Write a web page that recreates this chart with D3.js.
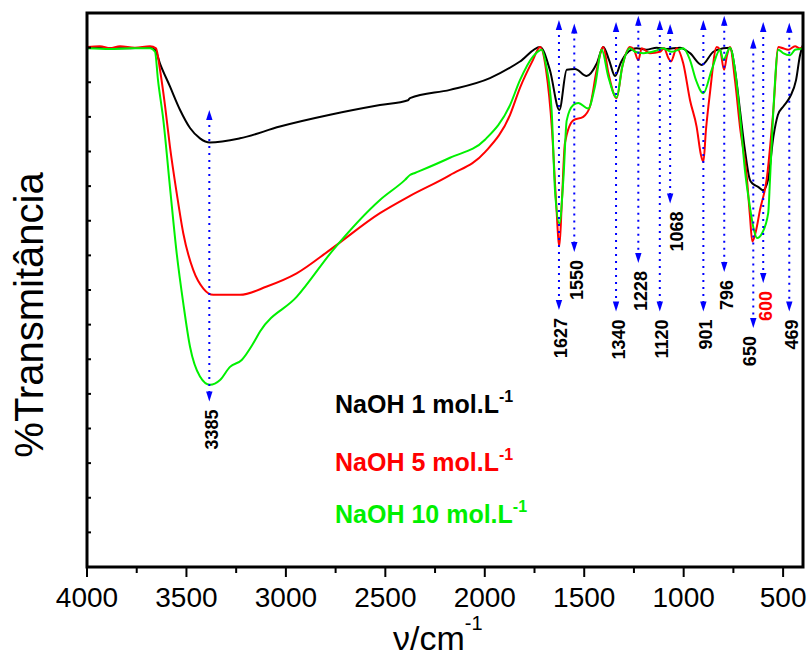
<!DOCTYPE html>
<html><head><meta charset="utf-8">
<script src="https://cdn.jsdelivr.net/npm/d3@7"></script>
<style>body{margin:0;background:#fff}svg{display:block}text{font-family:Arial,"Liberation Sans",sans-serif}</style>
</head><body><svg id="c" width="810" height="657"></svg>
<script>
// ---- data (wavenumber cm-1, transmittance arbitrary %) ----
const xTicks = [4000, 3500, 3000, 2500, 2000, 1500, 1000, 500];
const seriesNames = ["NaOH 1 mol.L", "NaOH 5 mol.L", "NaOH 10 mol.L"];
const seriesColors = ["#000000", "#ff0000", "#00f000"];
const black1 = [[4000,75.0],[3834,74.9],[3683,75.0],[3658,74.7],[3633,72.7],[3583,69.4],[3532,66.0],[3482,63.4],[3432,61.9],[3382,61.3],[3231,61.9],[3030,63.6],[2778,65.3],[2527,66.7],[2386,67.4],[2376,67.7],[2175,68.9],[1974,70.6],[1823,73.0],[1722,75.1],[1672,71.7],[1625,66.0],[1588,71.8],[1546,71.9],[1488,70.9],[1437,72.7],[1404,75.1],[1375,73.2],[1345,70.9],[1315,72.9],[1286,74.2],[1236,74.9],[1186,74.7],[1136,75.0],[1085,74.8],[1019,75.0],[968,74.2],[909,72.5],[851,74.4],[801,74.9],[767,75.0],[742,71.8],[717,66.0],[692,60.2],[667,55.9],[651,55.3],[626,54.9],[601,54.4],[576,55.9],[549,62.1],[526,65.3],[499,66.5],[465,67.9],[435,70.3],[415,73.9],[400,75.4]];
const red5 = [[4000,75.1],[3935,75.2],[3884,74.9],[3834,75.2],[3759,75.0],[3683,75.2],[3653,74.9],[3633,71.8],[3608,66.7],[3583,60.7],[3549,54.0],[3516,48.2],[3466,42.9],[3415,40.2],[3365,39.3],[3231,39.3],[3096,40.5],[2946,42.4],[2778,45.8],[2527,51.1],[2376,53.6],[2175,56.6],[1999,59.9],[1873,65.3],[1823,69.2],[1758,73.2],[1722,75.1],[1692,71.8],[1662,63.1],[1642,53.0],[1625,46.3],[1612,53.0],[1597,61.2],[1555,64.5],[1505,65.0],[1471,66.5],[1437,71.8],[1404,75.1],[1379,71.4],[1337,67.7],[1309,72.2],[1270,75.1],[1250,74.7],[1228,73.2],[1211,74.9],[1169,74.2],[1119,74.4],[1099,74.9],[1077,73.5],[1064,73.0],[1035,74.9],[1002,72.7],[968,67.4],[935,63.6],[913,59.5],[901,58.5],[888,63.1],[868,68.4],[834,75.1],[817,74.7],[797,71.8],[782,73.9],[767,75.1],[742,70.3],[717,63.6],[683,56.4],[667,50.8],[655,47.0],[636,48.6],[616,51.6],[583,55.9],[549,66.0],[524,75.1],[500,74.9],[474,74.7],[440,75.2],[415,74.9],[400,75.1]];
const green10 = [[4000,74.9],[3884,74.8],[3784,74.9],[3683,74.9],[3658,74.4],[3643,70.3],[3616,64.5],[3583,54.9],[3549,45.3],[3516,38.1],[3482,31.8],[3432,27.5],[3382,26.3],[3331,27.0],[3281,28.9],[3222,29.9],[3164,32.3],[3130,34.0],[2946,39.0],[2762,45.8],[2527,53.0],[2401,55.9],[2376,56.6],[2351,56.9],[2175,59.1],[1999,61.7],[1873,66.7],[1823,70.3],[1758,73.7],[1714,74.7],[1692,72.5],[1664,66.0],[1647,54.4],[1625,49.6],[1605,55.9],[1588,64.5],[1555,66.7],[1530,67.0],[1480,66.2],[1446,69.4],[1412,74.7],[1379,70.8],[1337,67.8],[1309,72.2],[1270,74.9],[1245,74.4],[1203,74.2],[1144,74.5],[1104,74.9],[1060,74.4],[1002,74.9],[968,73.2],[938,70.3],[901,68.4],[859,71.8],[817,74.7],[801,73.2],[767,75.0],[742,71.8],[717,65.3],[692,57.3],[667,52.0],[647,48.7],[631,47.5],[606,48.2],[575,51.1],[566,55.9],[549,66.0],[524,74.7],[500,74.2],[465,73.9],[440,74.7],[415,74.8],[400,74.9]];
// band markers: wavenumber, arrow top T, arrow bottom T, label colour
const bandWn   = [3385, 1627, 1550, 1340, 1228, 1120, 1068, 901, 796, 650, 600, 469];
const bandTop  = [66.0, 79.0, 78.5, 78.7, 79.6, 79.0, 78.4, 79.0, 79.6, 76.3, 78.7, 78.6];
const bandBot  = [23.9, 37.1, 45.5, 36.9, 43.9, 36.9, 52.5, 36.9, 42.6, 34.5, 41.0, 36.9];
const bandRed  = [false,false,false,false,false,false,false,false,false,false,true,false];

// ---- layout ----
const svg = d3.select("#c");
const L = 87, R = 803, T = 13, B = 567;
const x = d3.scaleLinear().domain([4000, 400]).range([L, R]);
const y = d3.scaleLinear().domain([0, 80]).range([B, T]);

// curves
const line = d3.line().x(d => x(d[0])).y(d => y(d[1])).curve(d3.curveMonotoneX);
[black1, red5, green10].forEach((s, i) => {
  svg.append("path").datum(s).attr("d", line).attr("fill", "none")
    .attr("stroke", seriesColors[i]).attr("stroke-width", 2).attr("stroke-linejoin", "round");
});

// band arrows
const labelDx = {"650": -6, "1068": 4};
bandWn.forEach((w, i) => {
  const xx = x(w), y1 = y(bandTop[i]), y2 = y(bandBot[i]);
  svg.append("line").attr("x1", xx).attr("x2", xx).attr("y1", y1 + 8).attr("y2", y2 - 8)
    .attr("stroke", "#0000ff").attr("stroke-width", 2).attr("stroke-dasharray", "2,5");
  svg.append("path").attr("d", `M${xx},${y1} L${xx-3.2},${y1+10} L${xx+3.2},${y1+10} Z`).attr("fill", "#0000ff");
  svg.append("path").attr("d", `M${xx},${y2} L${xx-3.2},${y2-10} L${xx+3.2},${y2-10} Z`).attr("fill", "#0000ff");
  const lx = xx + 2 + (labelDx[w] || 0), ly = y2 + 8;
  svg.append("text").attr("transform", `translate(${lx},${ly}) rotate(-90)`)
    .attr("text-anchor", "end").attr("dy", "0.36em")
    .attr("font-size", 18).attr("font-weight", "bold")
    .attr("fill", bandRed[i] ? "#ff0000" : "#000000").text(w);
});

// frame
svg.append("rect").attr("x", L).attr("y", T).attr("width", R - L).attr("height", B - T)
  .attr("fill", "none").attr("stroke", "#000").attr("stroke-width", 3);

// x axis ticks
const minor = d3.range(3750, 400, -500);
minor.forEach(v => svg.append("line").attr("x1", x(v)).attr("x2", x(v)).attr("y1", B).attr("y2", B + 6).attr("stroke", "#000").attr("stroke-width", 2));
xTicks.forEach(v => {
  svg.append("line").attr("x1", x(v)).attr("x2", x(v)).attr("y1", B).attr("y2", B + 10).attr("stroke", "#000").attr("stroke-width", 2);
  svg.append("text").attr("x", x(v)).attr("y", 607).attr("text-anchor", "middle").attr("font-size", 28).text(v);
});
// y ticks (no labels)
d3.range(5, 80, 5).forEach(v => svg.append("line").attr("x1", L).attr("x2", L + 4).attr("y1", y(v)).attr("y2", y(v)).attr("stroke", "#000").attr("stroke-width", 2));

// axis titles
const xt = svg.append("text").attr("x", 393).attr("y", 650).attr("font-size", 34);
xt.append("tspan").text("ν/cm");
xt.append("tspan").attr("font-size", 20).attr("dy", -20).text("-1");
svg.append("text").attr("transform", "translate(43,315) rotate(-90)").attr("text-anchor", "middle")
  .attr("font-size", 40).text("%Transmitância");

// legend
const legY = [413, 471, 523];
seriesNames.forEach((n, i) => {
  const t = svg.append("text").attr("x", 335).attr("y", legY[i]).attr("font-size", 25)
    .attr("font-weight", "bold").attr("fill", seriesColors[i]);
  t.append("tspan").text(n);
  t.append("tspan").attr("font-size", 16).attr("dy", -11).text("-1");
});
</script></body></html>
